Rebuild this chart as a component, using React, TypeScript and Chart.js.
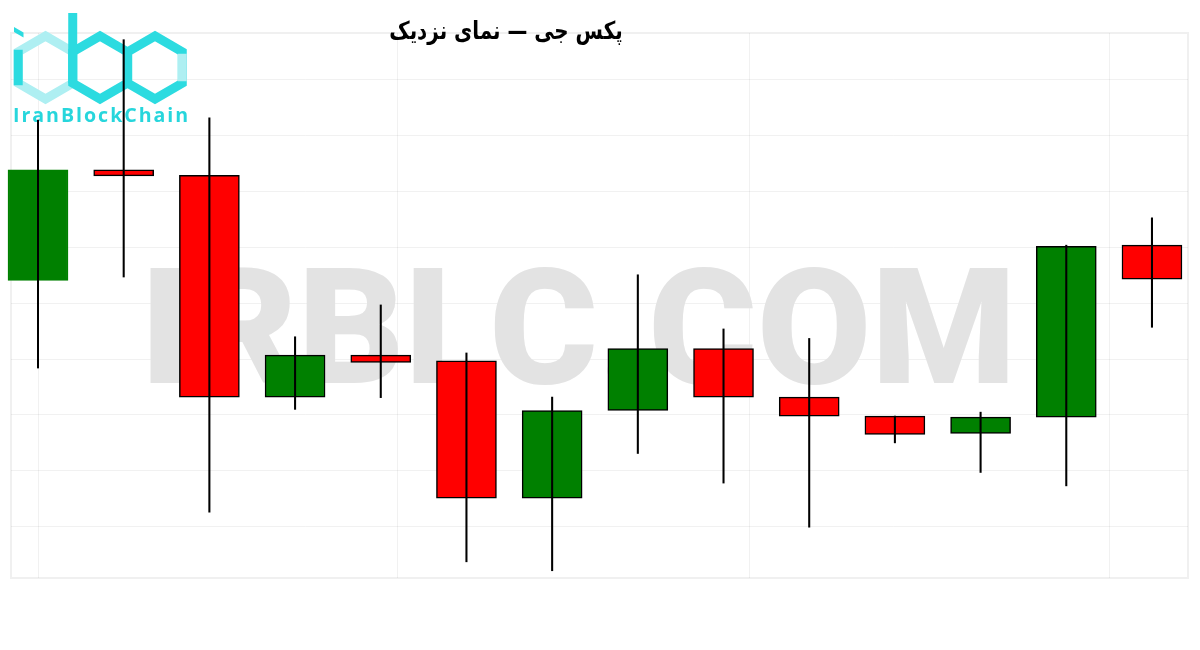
import React, { useEffect, useRef } from "react";
import { Chart, registerables } from "chart.js";

Chart.register(...registerables);

// ---- data ----
const categories = ["1", "2", "3", "4", "5", "6", "7", "8", "9", "10", "11", "12", "13", "14"];
const openPrices = [1964.1, 1983.9, 1982.9, 1943.2, 1950.7, 1949.7, 1925.1, 1940.8, 1951.9, 1943.2, 1939.8, 1936.7, 1939.6, 1970.4];
const highPrices = [1992.8, 2007.2, 1993.2, 1954.0, 1959.7, 1951.1, 1943.2, 1965.1, 1955.4, 1953.7, 1939.8, 1940.5, 1970.4, 1975.3];
const lowPrices = [1948.4, 1964.7, 1922.6, 1941.0, 1943.1, 1913.7, 1912.1, 1933.1, 1927.8, 1919.9, 1935.0, 1929.7, 1927.3, 1955.7];
const closePrices = [1983.9, 1982.8, 1943.2, 1950.7, 1949.4, 1925.1, 1940.8, 1951.9, 1943.2, 1939.8, 1936.5, 1939.6, 1970.2, 1964.3];
const xGridTicks = [0, 4.2, 8.3, 12.5];
const titleText = "پکس جی — نمای نزدیک";
const watermarkText = "IRBLC.COM";
const logoText = "IranBlockChain";

const UP = "#008000";
const DOWN = "#ff0000";
const GRID = "rgba(0,0,0,0.055)";

function drawHex(ctx: CanvasRenderingContext2D, cx: number, cy: number, r: number, color: string) {
  const c = Math.cos(Math.PI / 6) * r;
  ctx.beginPath();
  ctx.moveTo(cx, cy - r);
  ctx.lineTo(cx + c, cy - r / 2);
  ctx.lineTo(cx + c, cy + r / 2);
  ctx.lineTo(cx, cy + r);
  ctx.lineTo(cx - c, cy + r / 2);
  ctx.lineTo(cx - c, cy - r / 2);
  ctx.closePath();
  ctx.strokeStyle = color;
  ctx.stroke();
}

const decorPlugin = {
  id: "decor",
  beforeDatasetsDraw(chart: any) {
    const ctx: CanvasRenderingContext2D = chart.ctx;
    const { left, top, right, bottom } = chart.chartArea;
    ctx.save();
    // faint frame
    ctx.strokeStyle = "rgba(0,0,0,0.06)";
    ctx.lineWidth = 2;
    ctx.strokeRect(left, top, right - left, bottom - top);
    ctx.restore();

    // watermark
    ctx.save();
    ctx.font = '900 160px Roboto, "DejaVu Sans", sans-serif';
    ctx.textAlign = "left";
    ctx.textBaseline = "alphabetic";
    const m = ctx.measureText(watermarkText);
    const visW = m.actualBoundingBoxLeft + m.actualBoundingBoxRight;
    const visH = m.actualBoundingBoxAscent;
    const sx = 858 / visW;
    const sy = 116 / visH;
    ctx.translate(150 + m.actualBoundingBoxLeft * sx, 383);
    ctx.scale(sx, sy);
    ctx.fillStyle = "#e3e3e3";
    ctx.fillText(watermarkText, 0, 0);
    ctx.restore();

    // logo
    ctx.save();
    const bright = "#2cdbe0";
    const light = "#aeeff2";
    const R = 31.5;
    const cy = 67.5;
    const c30 = Math.cos(Math.PI / 6) * R;
    ctx.lineWidth = 9;
    ctx.lineJoin = "miter";
    drawHex(ctx, 45.5, cy, R, light);
    ctx.beginPath();
    ctx.moveTo(45.5 - c30, cy - R / 2 - 2);
    ctx.lineTo(45.5 - c30, cy + R / 2 + 2);
    ctx.strokeStyle = bright;
    ctx.stroke();
    drawHex(ctx, 100, cy, R, bright);
    drawHex(ctx, 155, cy, R, bright);
    ctx.beginPath();
    ctx.moveTo(155 + c30, cy - R / 2 + 2);
    ctx.lineTo(155 + c30, cy + R / 2 - 2);
    ctx.strokeStyle = light;
    ctx.stroke();
    // b stem
    ctx.beginPath();
    ctx.moveTo(100 - c30, 13);
    ctx.lineTo(100 - c30, cy + R / 2);
    ctx.strokeStyle = bright;
    ctx.stroke();
    // i dot
    ctx.beginPath();
    ctx.moveTo(14, 27);
    ctx.lineTo(23.5, 32.5);
    ctx.lineTo(23.5, 37.5);
    ctx.lineTo(14, 32);
    ctx.closePath();
    ctx.fillStyle = bright;
    ctx.fill();
    // logo text
    ctx.font = 'bold 20px "Open Sans", Lato, sans-serif';
    (ctx as any).letterSpacing = "2px";
    ctx.textAlign = "left";
    ctx.textBaseline = "alphabetic";
    const lm = ctx.measureText(logoText);
    const lw = lm.actualBoundingBoxLeft + lm.actualBoundingBoxRight;
    const lh = lm.actualBoundingBoxAscent;
    const lsx = 173 / lw;
    const lsy = 14.5 / lh;
    ctx.translate(14 + lm.actualBoundingBoxLeft * lsx, 122);
    ctx.scale(lsx, lsy);
    ctx.fillStyle = "#27d6dc";
    ctx.fillText(logoText, 0, 0);
    ctx.restore();

    // title
    ctx.save();
    ctx.font = 'bold 20px "DejaVu Sans", sans-serif';
    (ctx as any).direction = "rtl";
    ctx.textAlign = "center";
    ctx.textBaseline = "alphabetic";
    const tm = ctx.measureText(titleText);
    const tw = tm.actualBoundingBoxLeft + tm.actualBoundingBoxRight;
    const size = Math.max(14, Math.min(26, (20 * 232) / tw));
    ctx.font = `bold ${size}px "DejaVu Sans", sans-serif`;
    ctx.fillStyle = "#000000";
    ctx.translate(506, 39);
    ctx.scale(1, 1.25);
    ctx.fillText(titleText, 0, 0);
    ctx.restore();
  },
};

export default function App() {
  const ref = useRef<HTMLCanvasElement | null>(null);

  useEffect(() => {
    if (!ref.current) return;
    const idx = categories.map((_, i) => i);
    const chart = new Chart(ref.current, {
      type: "bar",
      data: {
        labels: categories,
        datasets: [
          {
            label: "wick",
            data: idx.map((i) => ({ x: i, y: [lowPrices[i], highPrices[i]] })) as any,
            backgroundColor: "#000000",
            borderWidth: 0,
            grouped: false,
            categoryPercentage: 1,
            barPercentage: 1,
            maxBarThickness: 1.4,
            clip: false as any,
            order: 0,
          },
          {
            label: "body",
            data: idx.map((i) => ({ x: i, y: [openPrices[i], closePrices[i]] })) as any,
            backgroundColor: idx.map((i) => (closePrices[i] >= openPrices[i] ? UP : DOWN)),
            borderColor: idx.map((i) => (i === 0 ? UP : "#000000")),
            borderWidth: 1.5,
            borderSkipped: false,
            grouped: false,
            categoryPercentage: 1,
            barPercentage: 1,
            maxBarThickness: 60,
            clip: false as any,
            order: 1,
          },
        ],
      },
      options: {
        animation: false,
        responsive: false,
        devicePixelRatio: 1,
        layout: { padding: { left: 11, right: 12, top: 33, bottom: 72 } },
        plugins: {
          legend: { display: false },
          title: { display: false },
          tooltip: { enabled: false },
        },
        scales: {
          x: {
            type: "linear",
            offset: false,
            min: -0.3151,
            max: 13.4205,
            ticks: { display: false, includeBounds: false },
            afterBuildTicks: (scale: any) => {
              scale.ticks = xGridTicks.map((v) => ({ value: v }));
            },
            grid: { color: GRID, drawTicks: false, offset: false },
            border: { display: false },
          },
          y: {
            type: "linear",
            min: 1910.8,
            max: 2008.4,
            ticks: { display: false, stepSize: 10, includeBounds: false },
            grid: { color: GRID, drawTicks: false },
            border: { display: false },
          },
        },
      },
      plugins: [decorPlugin],
    });
    return () => chart.destroy();
  }, []);

  return (
    <div style={{ position: "absolute", left: 0, top: 0, width: 1200, height: 650, background: "#ffffff" }}>
      <canvas ref={ref} width={1200} height={650} style={{ display: "block", width: 1200, height: 650 }} />
    </div>
  );
}
